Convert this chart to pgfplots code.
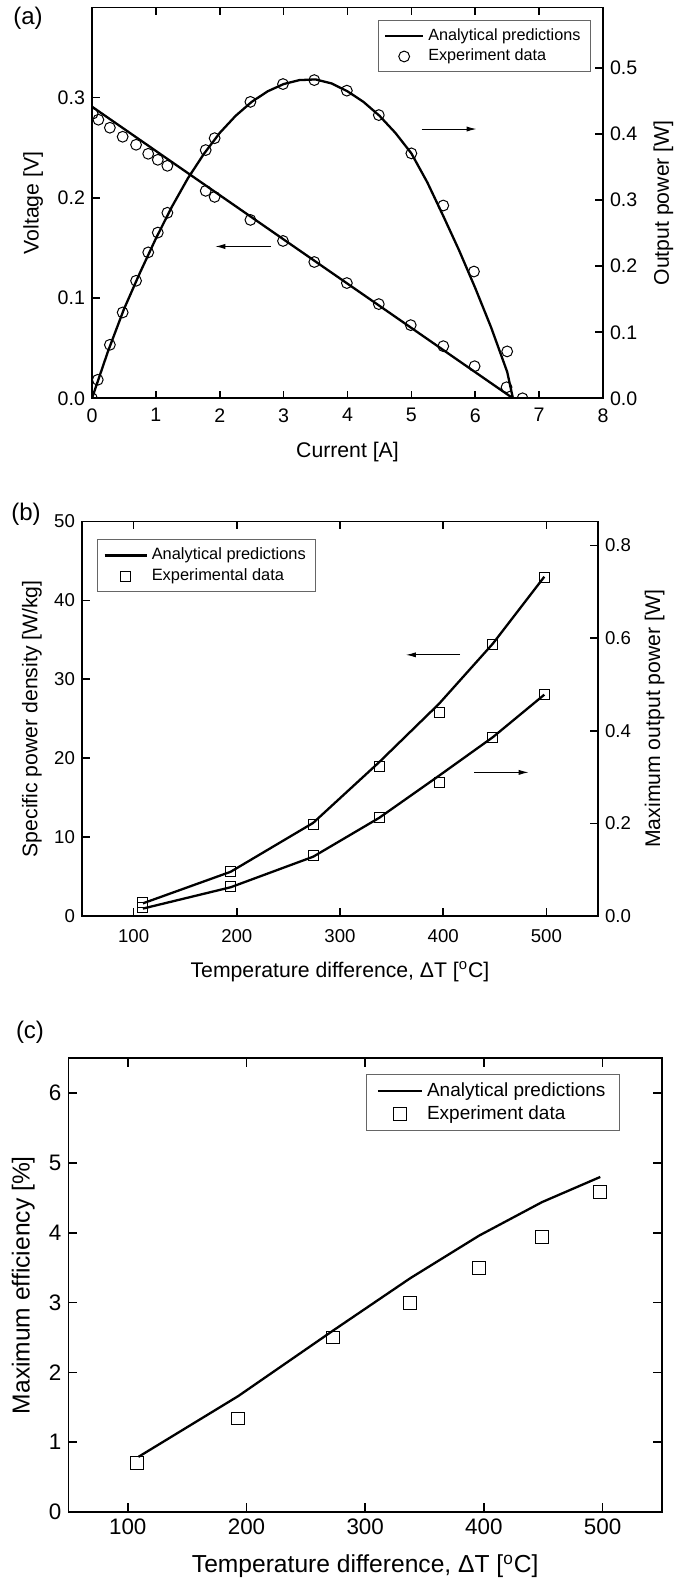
\documentclass[border=0pt]{standalone}
\usepackage{fontspec}
\setmainfont{Liberation Sans}
\usepackage{pgfplots}
\pgfplotsset{compat=1.18}
\usetikzlibrary{arrows.meta}

\newcommand\fta{\fontsize{9.8}{11}\selectfont}
\newcommand\fla{\fontsize{10.6}{12}\selectfont}
\newcommand\ftb{\fontsize{9.3}{11}\selectfont}
\newcommand\flb{\fontsize{10.6}{12}\selectfont}
\newcommand\ftc{\fontsize{11.2}{12}\selectfont}
\newcommand\flc{\fontsize{12.3}{14}\selectfont}

\pgfplotsset{
  base/.style={
    scale only axis, anchor=south west,
    tick align=inside, major tick length=3.8pt,
    axis line style={line width=0.8pt},
    every tick/.style={black, line width=0.8pt},
    /pgf/number format/assume math mode=true,
    clip marker paths=true,
  },
  lineimg/.style={legend image code/.code={\draw[##1] (0pt,0pt) -- (#1,0pt);}},
  markimg/.style={legend image code/.code={\draw[##1] plot[only marks] coordinates {(#1,0pt)};}},
  aline/.style={black, line width=1.15pt, mark=none},
  circ/.style={only marks, mark=o, mark size=2.7pt,
    mark options={draw=black, fill=white, line width=0.5pt}},
  sq/.style={only marks, mark=square, mark size=#1,
    mark options={draw=black, fill=white, line width=0.5pt}},
}

\begin{document}
\begin{tikzpicture}
\path[use as bounding box] (0,0) rectangle (340pt,791.5pt);

% ---------- (a) ----------
\begin{axis}[base, at={(46pt,592.35pt)}, width=255.5pt, height=195.4pt,
  xmin=0, xmax=8, ymin=0, ymax=0.39,
  xtick={0,1,...,8}, ytick={0,0.1,0.2,0.3},
  ytick pos=left, xtick pos=both, xticklabel pos=lower,
  ticklabel style={font=\fta},
  xticklabel style={yshift=-1.5pt},
  yticklabel style={/pgf/number format/.cd, fixed, fixed zerofill, precision=1},
  xlabel={Current [A]}, ylabel={Voltage [V]},
  label style={font=\fla},
  xlabel style={at={(axis description cs:0.5,-0.138)}, anchor=center},
  ylabel style={at={(axis description cs:-0.115,0.5)}, anchor=center},
  legend style={at={(1,1)}, anchor=north east, xshift=-6pt, yshift=-6.2pt,
    draw=black!60, line width=0.5pt, font=\fontsize{8.1}{9}\selectfont,
    cells={anchor=west}, row sep=-1pt},
]
\addplot[aline, lineimg=19pt] coordinates {(0,0.291) (6.59,0)};
\addlegendentry{Analytical predictions}
\addplot[circ, markimg=9.5pt] coordinates {
 (0.01,0.284) (0.10,0.278) (0.28,0.270) (0.48,0.261) (0.69,0.253)
 (0.88,0.244) (1.03,0.238) (1.18,0.232) (1.78,0.207) (1.92,0.201)
 (2.48,0.178) (2.99,0.157) (3.48,0.136) (3.99,0.115) (4.49,0.094)
 (4.99,0.073) (5.50,0.052) (5.99,0.032) (6.49,0.011) (6.74,0.0)
};
\addlegendentry{Experiment data}
\draw[line width=0.5pt, -{Latex[length=5pt,width=2.6pt]}] (axis cs:2.80,0.1515) -- (axis cs:1.93,0.1515);
\draw[line width=0.5pt, -{Latex[length=5pt,width=2.6pt]}] (axis cs:5.16,0.2687) -- (axis cs:6.02,0.2687);
\end{axis}
\begin{axis}[base, at={(46pt,592.35pt)}, width=255.5pt, height=195.4pt,
  xmin=0, xmax=8, ymin=0, ymax=0.592,
  hide x axis, axis y line*=right,
  ytick={0,0.1,...,0.5},
  ticklabel style={font=\fta},
  yticklabel style={/pgf/number format/.cd, fixed, fixed zerofill, precision=1},
  ylabel={Output power [W]},
  label style={font=\fla},
  ylabel style={at={(axis description cs:1.118,0.5)}, anchor=center},
]
\addplot[aline] coordinates {
 (0,0) (0.25,0.071) (0.5,0.135) (0.75,0.190) (1.0,0.242) (1.25,0.290)
 (1.5,0.333) (1.75,0.370) (2.0,0.402) (2.25,0.428) (2.5,0.449) (2.75,0.465)
 (3.0,0.476) (3.25,0.482) (3.5,0.483) (3.75,0.477) (4.0,0.465) (4.25,0.449)
 (4.5,0.428) (4.75,0.402) (5.0,0.371) (5.25,0.327) (5.5,0.276) (5.75,0.2235)
 (6.0,0.167) (6.25,0.107) (6.5,0.040) (6.59,0)
};
\addplot[circ] coordinates {
 (0,0) (0.09,0.028) (0.28,0.081) (0.48,0.130) (0.69,0.178) (0.88,0.221)
 (1.03,0.251) (1.18,0.281) (1.78,0.376) (1.92,0.394) (2.48,0.449)
 (2.99,0.476) (3.48,0.482) (3.99,0.466) (4.49,0.429) (5.00,0.371)
 (5.50,0.292) (5.98,0.192) (6.50,0.071)
};
\end{axis}

% ---------- (b) ----------
\begin{axis}[base, at={(41pt,333.5pt)}, width=258pt, height=197.25pt,
  xmin=50, xmax=550, ymin=0, ymax=50,
  xtick={100,200,...,500}, ytick={0,10,...,50},
  ytick pos=left, xtick pos=both, xticklabel pos=lower,
  ticklabel style={font=\ftb},
  xticklabel style={yshift=-3pt},
  xlabel={Temperature difference, ΔT [\textsuperscript{o}C]},
  ylabel={Specific power density [W/kg]},
  label style={font=\flb},
  xlabel style={at={(axis description cs:0.5,-0.142)}, anchor=center},
  ylabel style={at={(axis description cs:-0.097,0.5)}, anchor=center},
  legend style={at={(0,1)}, anchor=north west, xshift=7.5pt, yshift=-9pt,
    draw=black!60, line width=0.5pt, font=\fontsize{8.2}{9}\selectfont,
    cells={anchor=west}, row sep=-1pt},
]
\addplot[aline, lineimg=21pt] coordinates {
 (109,1.6) (194,5.6) (274,11.8) (338,19.5) (396,26.9) (448,34.5) (498,43.0)};
\addlegendentry{Analytical predictions}
\addplot[sq=2.5pt, markimg=10.5pt] coordinates {
 (109,1.7) (194,5.6) (274,11.6) (338,19.0) (396,25.8) (448,34.4) (498,42.9)};
\addlegendentry{Experimental data}
\draw[line width=0.5pt, -{Latex[length=5pt,width=2.6pt]}] (axis cs:416.4,33.1) -- (axis cs:363.9,33.1);
\draw[line width=0.5pt, -{Latex[length=5pt,width=2.6pt]}] (axis cs:430.3,18.2) -- (axis cs:482.8,18.2);
\end{axis}
\begin{axis}[base, at={(41pt,333.5pt)}, width=258pt, height=197.25pt,
  xmin=50, xmax=550, ymin=0, ymax=0.852,
  hide x axis, axis y line*=right,
  ytick={0,0.2,...,0.8},
  ticklabel style={font=\ftb},
  yticklabel style={/pgf/number format/.cd, fixed, fixed zerofill, precision=1},
  ylabel={Maximum output power [W]},
  label style={font=\flb},
  ylabel style={at={(axis description cs:1.11,0.5)}, anchor=center},
]
\addplot[aline] coordinates {
 (109,0.016) (194,0.062) (274,0.128) (338,0.212) (396,0.303) (448,0.386) (498,0.478)};
\addplot[sq=2.5pt] coordinates {
 (109,0.018) (194,0.064) (274,0.130) (338,0.213) (396,0.288) (448,0.385) (498,0.479)};
\end{axis}

% ---------- (c) ----------
\begin{axis}[base, at={(34.2pt,35.5pt)}, width=296.8pt, height=226.85pt,
  xmin=50, xmax=550, ymin=0, ymax=6.5,
  xtick={100,200,...,500}, ytick={0,1,...,6},
  xtick pos=both, ytick pos=both, xticklabel pos=lower, yticklabel pos=left,
  major tick length=4.5pt,
  ticklabel style={font=\ftc},
  xlabel={Temperature difference, ΔT [\textsuperscript{o}C]},
  ylabel={Maximum efficiency [\%]},
  label style={font=\flc},
  xlabel style={at={(axis description cs:0.5,-0.12)}, anchor=center},
  ylabel style={at={(axis description cs:-0.076,0.5)}, anchor=center},
  legend style={at={(1,1)}, anchor=north east, xshift=-21pt, yshift=-8pt,
    draw=black!60, line width=0.5pt, font=\fontsize{9.5}{10.5}\selectfont,
    inner xsep=5pt, cells={anchor=west}, row sep=-1pt},
]
\addplot[aline, lineimg=22pt] coordinates {
 (109,0.79) (193,1.66) (273,2.60) (338,3.35) (396,3.96) (449,4.44) (498,4.80)};
\addlegendentry{Analytical predictions}
\addplot[sq=3.2pt, markimg=11pt] coordinates {
 (108,0.70) (193,1.34) (273,2.50) (338,2.99) (396,3.50) (449,3.94) (498,4.59)};
\addlegendentry{Experiment data}
\end{axis}

\node[font=\fontsize{12}{13}\selectfont] at (14pt,782.5pt) {(a)};
\node[font=\fontsize{12}{13}\selectfont] at (13pt,534.5pt) {(b)};
\node[font=\fontsize{12}{13}\selectfont] at (15pt,275.2pt) {(c)};
\end{tikzpicture}
\end{document}
